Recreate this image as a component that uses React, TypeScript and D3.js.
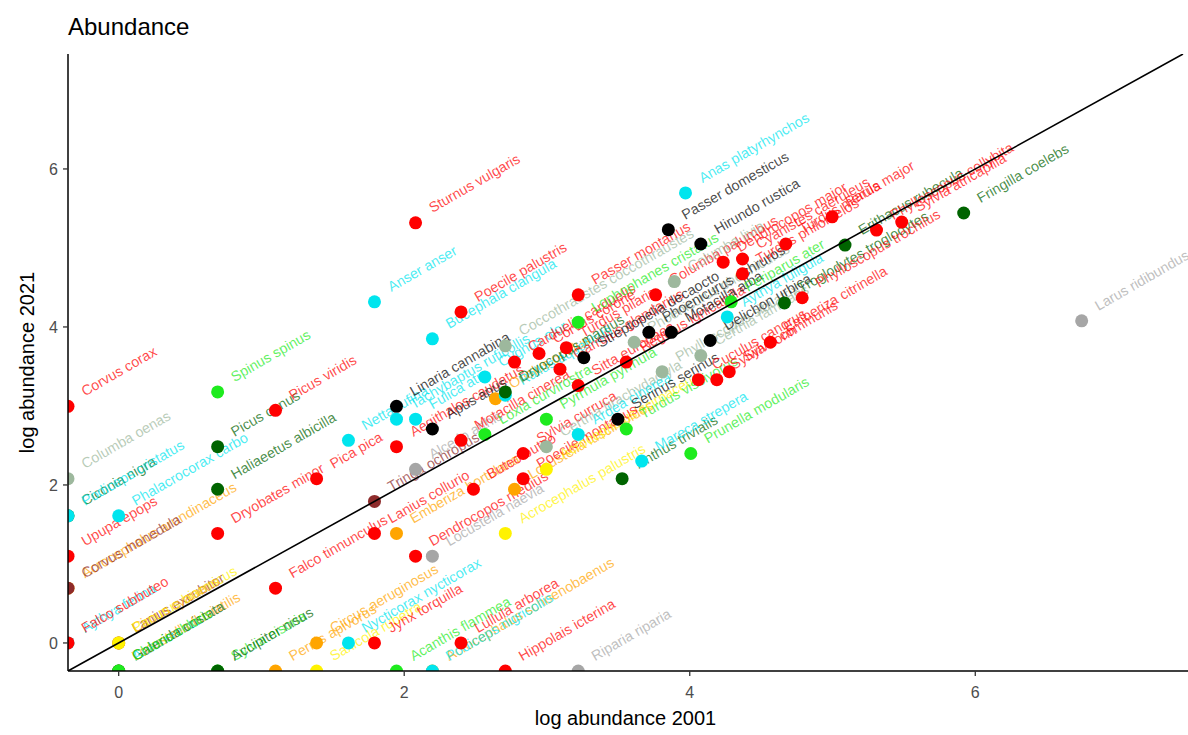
import React from "react";
import * as d3 from "d3";

// Bird counts per species in the two survey years (0 = not recorded)
const species: string[] = [
  "Corvus corax", "Columba oenas", "Ciconia nigra", "Podiceps cristatus", "Upupa epops",
  "Acrocephalus arundinaceus", "Corvus monedula", "Aythya ferina", "Falco subbuteo",
  "Phalacrocorax carbo", "Lanius excubitor", "Circus cyaneus", "Panurus biarmicus",
  "Anas crecca", "Locustella fluviatilis", "Galerida cristata", "Chloris chloris",
  "Spinus spinus", "Picus canus", "Haliaeetus albicilla", "Dryobates minor", "Sylvia nisoria", "Accipiter nisus",
  "Picus viridis", "Falco tinnunculus", "Pernis apivorus",
  "Pica pica", "Circus aeruginosus", "Saxicola rubetra",
  "Netta rufina", "Nycticorax nycticorax",
  "Anser anser", "Tringa ochropus", "Lanius collurio", "Jynx torquilla",
  "Linaria cannabina", "Tachybaptus ruficollis", "Aegithalos caudatus", "Emberiza hortulana", "Acanthis flammea",
  "Sturnus vulgaris", "Fulica atra", "Alcedo atthis", "Dendrocopos medius",
  "Bucephala clangula", "Apus apus", "Locustella naevia", "Acrocephalus schoenobaenus", "Podiceps nigricollis",
  "Poecile palustris", "Motacilla cinerea", "Lullula arborea",
  "Buteo buteo",
  "Cygnus olor", "Loxia curvirostra",
  "Oriolus oriolus",
  "Coccothraustes coccothraustes", "Rallus aquaticus", "Dryocopus martius", "Acrocephalus palustris", "Hippolais icterina",
  "Carduelis carduelis", "Locustella luscinioides",
  "Sylvia curruca", "Poecile montanus",
  "Corvus corone",
  "Pyrrhula pyrrhula", "Certhia brachydactyla", "Acrocephalus scirpaceus",
  "Garrulus glandarius",
  "Turdus pilaris",
  "Passer montanus", "Lophophanes cristatus", "Sitta europaea", "Ardea cinerea", "Riparia riparia",
  "Streptopelia decaocto",
  "Serinus serinus",
  "Anthus trivialis",
  "Regulus ignicapilla", "Turdus viscivorus",
  "Phoenicurus phoenicurus",
  "Mareca strepera",
  "Phoenicurus ochruros",
  "Columba palumbus",
  "Phylloscopus sibilatrix",
  "Passer domesticus",
  "Motacilla alba",
  "Columba livia",
  "Anas platyrhynchos",
  "Prunella modularis",
  "Cuculus canorus",
  "Hirundo rustica", "Certhia familiaris",
  "Delichon urbica",
  "Sylvia borin",
  "Dendrocopos major",
  "Aythya fuligula",
  "Sylvia communis",
  "Periparus ater",
  "Cyanistes caeruleus", "Turdus philomelos",
  "Emberiza citrinella",
  "Troglodytes troglodytes",
  "Turdus merula",
  "Phylloscopus trochilus",
  "Parus major",
  "Erithacus rubecula",
  "Phylloscopus collybita",
  "Sylvia atricapilla",
  "Fringilla coelebs",
  "Larus ridibundus",
];

const count2001: number[] = [
  0, 0, 0, 0, 0,
  0, 0, 0, 0,
  1, 1, 1, 1,
  1, 1, 1, 1,
  2, 2, 2, 2, 2, 2,
  3, 3, 3,
  4, 4, 4,
  5, 5,
  6, 6, 6, 6,
  7, 7, 7, 7, 7,
  8, 8, 8, 8,
  9, 9, 9, 9, 9,
  11, 11, 11,
  12,
  13, 13,
  14,
  15, 15, 15, 15, 15,
  16, 16,
  17, 17,
  19,
  20, 20, 20,
  22,
  23,
  25, 25, 25, 25, 25,
  26,
  33,
  34,
  35, 35,
  37,
  39,
  41,
  43,
  45,
  47,
  48,
  49,
  53,
  55,
  58,
  59, 59,
  63,
  66,
  69,
  71,
  72,
  73,
  79, 79,
  96,
  106,
  107,
  120,
  148,
  162,
  202,
  241,
  372,
  850,
];

const count2021: number[] = [
  20, 8, 5, 5, 3,
  2, 2, 1, 1,
  5, 1, 1, 1,
  0, 0, 0, 0,
  24, 12, 7, 4, 0, 0,
  19, 2, 0,
  8, 1, 0,
  13, 1,
  75, 6, 4, 1,
  20, 17, 12, 4, 0,
  204, 17, 9, 3,
  47, 15, 3, 0, 0,
  66, 13, 1,
  7,
  29, 14,
  22,
  43, 23, 24, 4, 0,
  35, 7,
  11, 8,
  39,
  17, 12, 9,
  32,
  42,
  82, 58, 26, 14, 0,
  37,
  17,
  8,
  35, 15,
  45,
  10,
  51,
  82,
  31,
  187,
  51,
  97,
  298,
  11,
  28,
  156, 38,
  46,
  28,
  124,
  62,
  31,
  75,
  129, 107,
  45,
  74,
  156,
  79,
  220,
  154,
  186,
  206,
  231,
  59,
];

const group: string[] = [
  "red", "sage", "darkgreen", "cyan", "red",
  "orange", "brown", "cyan", "red",
  "cyan", "brown", "orange", "yellow",
  "cyan", "orange", "darkgreen", "green",
  "green", "darkgreen", "darkgreen", "red", "green", "darkgreen",
  "red", "red", "orange",
  "red", "orange", "yellow",
  "cyan", "cyan",
  "cyan", "brown", "red", "red",
  "black", "cyan", "red", "orange", "green",
  "red", "cyan", "grey", "red",
  "cyan", "black", "grey", "orange", "cyan",
  "red", "red", "red",
  "red",
  "cyan", "green",
  "orange",
  "sage", "cyan", "darkgreen", "yellow", "red",
  "red", "orange",
  "red", "red",
  "red",
  "green", "sage", "yellow",
  "red",
  "red",
  "red", "green", "red", "cyan", "grey",
  "black",
  "black",
  "darkgreen",
  "red", "green",
  "sage",
  "cyan",
  "black",
  "red",
  "sage",
  "black",
  "black",
  "sage",
  "cyan",
  "green",
  "red",
  "black", "sage",
  "black",
  "red",
  "red",
  "cyan",
  "red",
  "green",
  "red", "red",
  "red",
  "darkgreen",
  "red",
  "red",
  "red",
  "darkgreen",
  "red",
  "red",
  "darkgreen",
  "grey",
];

const palette: Record<string, string> = {
  red: "#FF0000",
  green: "#1EEB1E",
  darkgreen: "#006400",
  cyan: "#00E5EE",
  black: "#000000",
  grey: "#A6A6A6",
  sage: "#9DB89D",
  orange: "#FFA500",
  yellow: "#FFF200",
  brown: "#8E2B2B",
};

const xTicks = [0, 2, 4, 6];
const yTicks = [0, 2, 4, 6];

const W = 1188;
const H = 735;
const panel = { left: 68, right: 1183, top: 54, bottom: 671 };
const domain: [number, number] = [-0.355, 7.455];

const x = d3.scaleLinear().domain(domain).range([panel.left, panel.right]);
const y = d3.scaleLinear().domain(domain).range([panel.bottom, panel.top]);

// log of a count; zero counts sit on the panel border
const logPos = (c: number) => (c > 0 ? Math.log(c) : domain[0]);

const font = "'Liberation Sans', Arial, Helvetica, sans-serif";

export default function App() {
  const rows = species.map((name, i) => ({
    name,
    px: x(logPos(count2001[i])),
    py: y(logPos(count2021[i])),
    color: palette[group[i]],
  }));

  return (
    <svg width={W} height={H} style={{ display: "block", position: "absolute", left: 0, top: 0, background: "#fff" }}>
      <defs>
        <clipPath id="panel-clip">
          <rect x={panel.left} y={panel.top} width={W - panel.left} height={panel.bottom - panel.top} />
        </clipPath>
      </defs>
      <text x={68} y={35} fontFamily={font} fontSize={24} fill="#000">Abundance</text>

      <g clipPath="url(#panel-clip)">
        {rows.map((r, i) => (
          <text
            key={"t" + i}
            transform={`translate(${r.px},${r.py}) rotate(-30)`}
            x={19.5}
            y={0}
            fontFamily={font}
            fontSize={14.3}
            fill={r.color}
            fillOpacity={0.72}
          >
            {r.name}
          </text>
        ))}
        {rows.map((r, i) => (
          <circle key={"p" + i} cx={r.px} cy={r.py} r={6.5} fill={r.color} />
        ))}
        <line x1={x(domain[0])} y1={y(domain[0])} x2={x(domain[1])} y2={y(domain[1])} stroke="#000" strokeWidth={1.6} />
      </g>

      {/* axes */}
      <line x1={panel.left} x2={W} y1={panel.bottom} y2={panel.bottom} stroke="#000" strokeWidth={1.5} />
      <line x1={panel.left} x2={panel.left} y1={panel.top} y2={panel.bottom} stroke="#000" strokeWidth={1.5} />
      {xTicks.map((t) => (
        <g key={"xt" + t}>
          <line x1={x(t)} x2={x(t)} y1={panel.bottom} y2={panel.bottom + 5} stroke="#333" strokeWidth={1.3} />
          <text x={x(t)} y={698} textAnchor="middle" fontFamily={font} fontSize={16} fill="#4D4D4D">{t}</text>
        </g>
      ))}
      {yTicks.map((t) => (
        <g key={"yt" + t}>
          <line x1={panel.left - 5} x2={panel.left} y1={y(t)} y2={y(t)} stroke="#333" strokeWidth={1.3} />
          <text x={58} y={y(t)} dy="0.36em" textAnchor="end" fontFamily={font} fontSize={16} fill="#4D4D4D">{t}</text>
        </g>
      ))}
      <text x={(panel.left + panel.right) / 2} y={725} textAnchor="middle" fontFamily={font} fontSize={20} fill="#000">log abundance 2001</text>
      <text transform={`translate(34,${(panel.top + panel.bottom) / 2}) rotate(-90)`} textAnchor="middle" fontFamily={font} fontSize={20} fill="#000">log abundance 2021</text>
    </svg>
  );
}
